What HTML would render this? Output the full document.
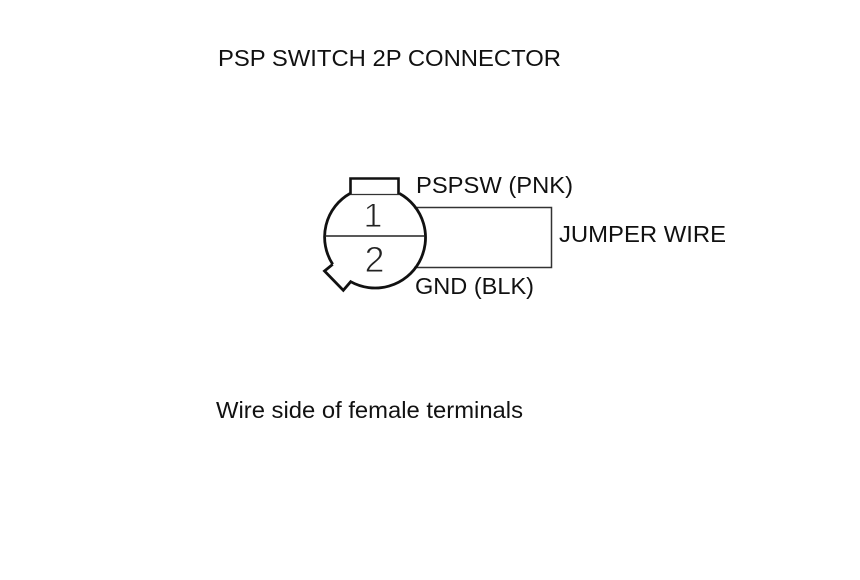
<!DOCTYPE html>
<html>
<head>
<meta charset="utf-8">
<style>
html,body{margin:0;padding:0;background:#fff;width:860px;height:580px;overflow:hidden}
svg{display:block}
text{font-family:"Liberation Sans",Arial,sans-serif;fill:#111}
</style>
</head>
<body>
<svg width="860" height="580" viewBox="0 0 860 580" xmlns="http://www.w3.org/2000/svg">
<rect width="860" height="580" fill="#fff"/>
<text x="218" y="66" font-size="23" textLength="343" lengthAdjust="spacingAndGlyphs">PSP SWITCH 2P CONNECTOR</text>
<text x="416" y="193" font-size="23" textLength="157" lengthAdjust="spacingAndGlyphs">PSPSW (PNK)</text>
<text x="559" y="242" font-size="23" textLength="167" lengthAdjust="spacingAndGlyphs">JUMPER WIRE</text>
<text x="415" y="294" font-size="23" textLength="119" lengthAdjust="spacingAndGlyphs">GND (BLK)</text>
<text x="216" y="418" font-size="23" textLength="307" lengthAdjust="spacingAndGlyphs">Wire side of female terminals</text>

<path d="M414 207.5H551.5V267.5H414" fill="none" stroke="#333" stroke-width="1.5"/>
<path d="M350.500 194V178.500H398.500V194" fill="none" stroke="#111" stroke-width="2.6"/>
<path d="M350 194.500H399" fill="none" stroke="#333" stroke-width="1.3"/>
<path d="M332.700 264.300A50 50 0 0 1 350 193.500M399.500 193.500A50 50 0 1 1 350.700 281.700L343.300 290.300L324.500 271L332.700 264.300" fill="none" stroke="#111" stroke-width="2.8" stroke-linejoin="miter"/>
<path d="M325 236H425" fill="none" stroke="#222" stroke-width="1.5"/>

<text x="373" y="227" font-size="34" text-anchor="middle" style="fill:#222;stroke:#fff;stroke-width:.9px">1</text>
<text x="374.500" y="272" font-size="36" text-anchor="middle" style="fill:#222;stroke:#fff;stroke-width:.9px">2</text>
</svg>
</body>
</html>
